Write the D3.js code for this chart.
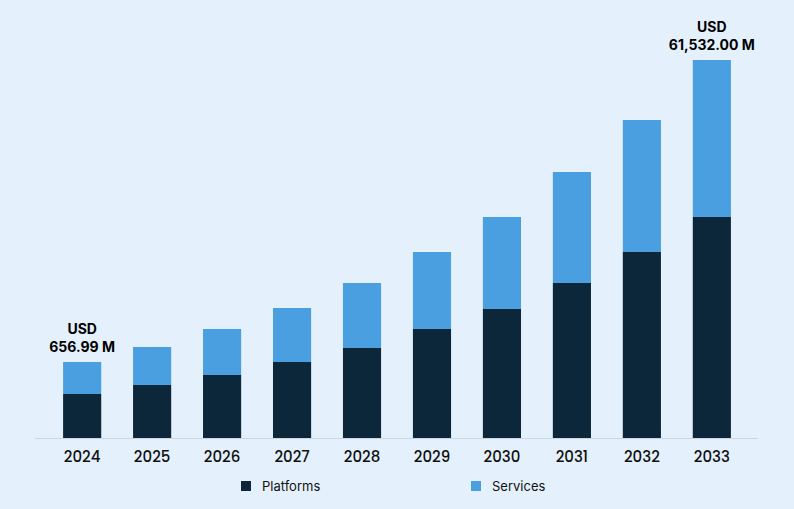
<!DOCTYPE html>
<html><head><meta charset="utf-8">
<script src="https://cdn.jsdelivr.net/npm/d3@7"></script>
<style>body{margin:0;background:#e4f1fc}svg{display:block}</style>
</head><body>
<svg id="chart" width="794" height="509"></svg>
<script>
// values (relative units)
var years = ["2024","2025","2026","2027","2028","2029","2030","2031","2032","2033"];
var platforms = [44, 53, 63, 76, 90, 109, 129, 155, 186, 221];
var services = [32, 38, 46, 54, 65, 77, 92, 111, 132, 157];
var seriesNames = ["Platforms", "Services"];
var colors = ["#0c2739", "#4a9fe0"];

var svg = d3.select("#chart");
svg.append("rect").attr("width", 794).attr("height", 509).attr("fill", "#e4f1fc");

var x = d3.scaleBand().domain(years).range([47, 747]).paddingInner(0.455).paddingOuter(0.23);
var y = d3.scaleLinear().domain([0, 378]).range([438, 60]);

var rows = years.map((yr, i) => ({year: yr, Platforms: platforms[i], Services: services[i]}));
var stack = d3.stack().keys(seriesNames)(rows);

svg.selectAll("g.layer").data(stack).enter().append("g")
  .attr("fill", (d, i) => colors[i])
  .selectAll("rect").data(d => d).enter().append("rect")
  .attr("x", d => x(d.data.year))
  .attr("width", x.bandwidth())
  .attr("y", d => y(d[1]))
  .attr("height", d => y(d[0]) - y(d[1]));

svg.append("line").attr("x1", 35).attr("x2", 758).attr("y1", 438.5).attr("y2", 438.5)
  .attr("stroke", "#c9d6e0").attr("stroke-width", 1);

svg.selectAll("text.year").data(years).enter().append("text")
  .attr("x", d => x(d) + x.bandwidth() / 2).attr("y", 462)
  .attr("text-anchor", "middle")
  .style("font-family", "Poppins, Inter, sans-serif").style("font-size", "15px").style("font-weight", 500)
  .attr("fill", "#111").text(d => d);

// end labels
var labels = [{i: 0, lines: ["USD", "656.99 M"]}, {i: 9, lines: ["USD", "61,532.00 M"]}];
labels.forEach(function (l) {
  var total = platforms[l.i] + services[l.i];
  var t = svg.append("text").attr("text-anchor", "middle")
    .attr("x", x(years[l.i]) + x.bandwidth() / 2)
    .style("font-family", "Inter, sans-serif").style("font-size", "14px").style("font-weight", 700)
    .attr("fill", "#000");
  l.lines.forEach((s, k) => t.append("tspan").attr("x", x(years[l.i]) + x.bandwidth() / 2)
    .attr("y", y(total) - 28 + k * 18).text(s));
});

// legend
var legendX = [241, 471];
seriesNames.forEach(function (name, i) {
  svg.append("rect").attr("x", legendX[i]).attr("y", 481).attr("width", 10).attr("height", 10).attr("fill", colors[i]);
  svg.append("text").attr("x", legendX[i] + 21).attr("y", 491)
    .style("font-family", "Inter, sans-serif").style("font-size", "13px")
    .attr("fill", "#111").text(name);
});
</script>
</body></html>
